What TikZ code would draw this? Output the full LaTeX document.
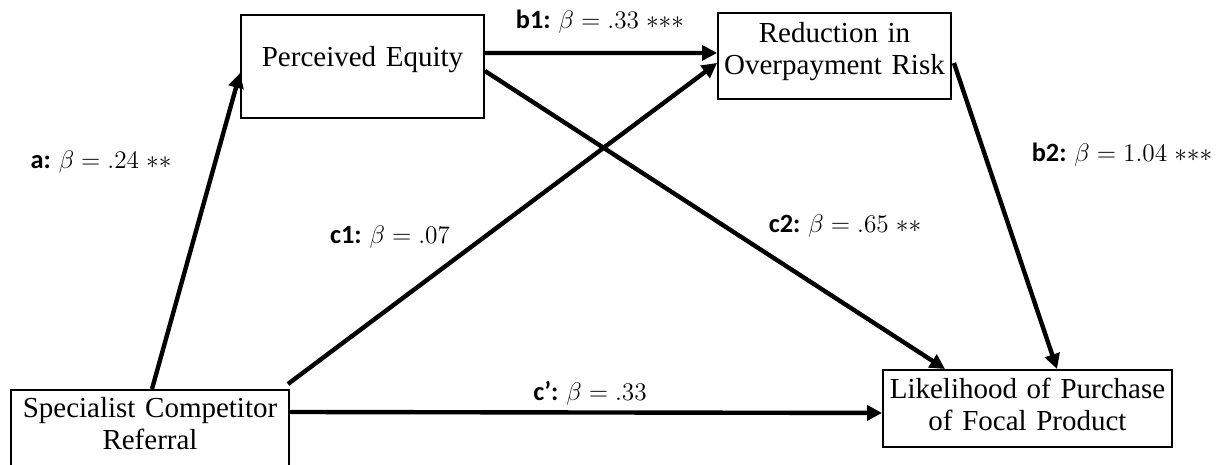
\documentclass[tikz,border=0pt]{standalone}
\usepackage{fontspec}
\setmainfont{Liberation Serif}
\newfontfamily\lblfont{Carlito}
\usetikzlibrary{arrows.meta,calc}
\newcommand\boxfont{\fontsize{16.5}{18.2}\selectfont}
\newcommand\coeffont{\lblfont\fontsize{15}{18}\selectfont}
\tikzset{
  varbox/.style={draw, line width=1.1pt, inner sep=0pt, align=center, font=\boxfont, anchor=north},
  path/.style={line width=2.5pt, -{Triangle[length=0.3cm,width=0.3cm]}},
  coef/.style={font=\coeffont, inner sep=0pt}
}

\begin{document}
\begin{tikzpicture}[x=0.02cm, y=-0.02cm]
  \useasboundingbox (0,0) rectangle (1232,465);
  \clip (0,0) rectangle (1232,465);

  %--- Variables ---
  \node[varbox, text width=4.86cm, text height=1.04cm, text depth=1.02cm] (equity) at (362.5,14) {Perceived Equity};
  \node[varbox, text width=4.66cm, text height=0.6cm, text depth=1.12cm] (reduction) at (834.5,12) {Reduction in\\Overpayment Risk};
  \node[varbox, text width=5.56cm, text height=0.56cm, text depth=1.8cm] (referral) at (150,389) {Specialist Competitor\\Referral};
  \node[varbox, text width=5.78cm, text height=0.58cm, text depth=0.96cm] (purchase) at (1027.5,369) {Likelihood of Purchase\\of Focal Product};

  %--- Paths ---
  \draw[path] ($(referral.north)+(2,0)$) -- ($(equity.west)+(0,6.5)$);
  \draw[path] ($(equity.east)+(0,-13.5)$) -- ($(reduction.west)+(0,-3)$);
  \draw[path] ($(referral.north east)+(-2,-5)$) -- ($(reduction.west)+(0,7)$);
  \draw[path] ($(equity.east)+(0,4.5)$) -- ($(purchase.north)+(-82.5,0)$);
  \draw[path] ($(reduction.east)+(2,7)$) -- ($(purchase.north)+(29.5,0)$);
  \draw[path] ($(referral.north east)+(0,23)$) -- ($(purchase.west)+(0,4.5)$);

  % Coefficients
  \node[coef] (coefa) at (101,162) {\textbf{a:} $\beta = .24\;{\ast}{\ast}$};
  \node[coef] (coefb1) at (600,22) {\textbf{b1:} $\beta = .33\;{\ast}{\ast}{\ast}$};
  \node[coef] (coefb2) at (1122,155) {\textbf{b2:} $\beta = 1.04\;{\ast}{\ast}{\ast}$};
  \node[coef] (coefc1) at (390,237) {\textbf{c1:} $\beta = .07$};
  \node[coef] (coefc2) at (845,226) {\textbf{c2:} $\beta = .65\;{\ast}{\ast}$};
  \node[coef] (coefc) at (590,393) {\textbf{c’:} $\beta = .33$};
\end{tikzpicture}
\end{document}
